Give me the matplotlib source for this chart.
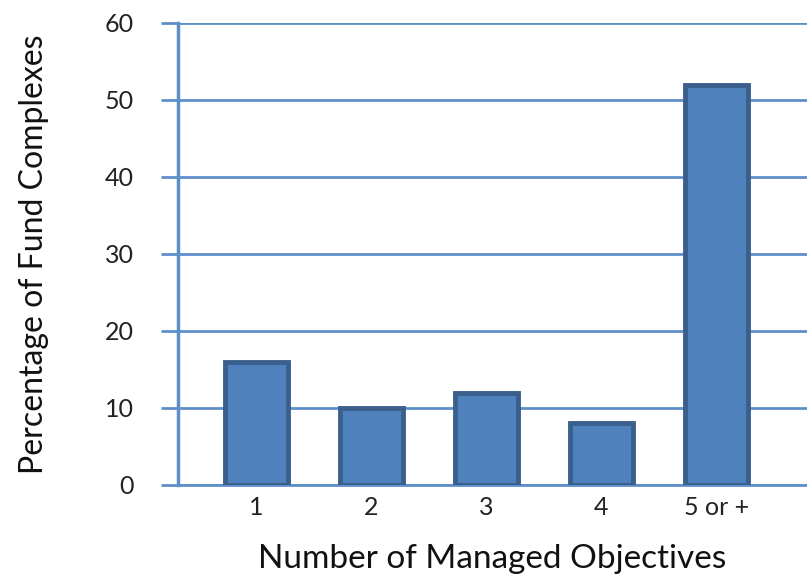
import matplotlib.pyplot as plt

# Values
categories = ['1', '2', '3', '4', '5 or +']
percentages = [16, 10, 12, 8, 52]
y_ticks = [0, 10, 20, 30, 40, 50, 60]

fill = '#4F81BD'
edge = '#3A5F8C'
grid_blue = '#5F8FC9'

plt.rcParams['font.family'] = ['Lato', 'DejaVu Sans']

fig = plt.figure(figsize=(8.07, 5.88), dpi=100)
ax = fig.add_axes([0.2206, 0.1752, 0.7794, 0.7857])

x = list(range(len(categories)))
ax.bar(x, percentages, width=0.55, color=fill, edgecolor=edge, linewidth=3.5, zorder=3)

ax.set_xlim(-0.68, 4.79)
ax.set_ylim(0, 60)
ax.set_yticks(y_ticks)
ax.set_xticks(x)
ax.set_xticklabels(categories)

ax.yaxis.grid(True, color=grid_blue, linewidth=2, zorder=0)
ax.set_axisbelow(True)

for side in ['top', 'right']:
    ax.spines[side].set_visible(False)
ax.spines['left'].set_color(grid_blue)
ax.spines['left'].set_linewidth(2.5)
ax.spines['bottom'].set_color(grid_blue)
ax.spines['bottom'].set_linewidth(2)

ax.tick_params(axis='y', length=12, width=2, color=grid_blue, labelsize=18,
               labelcolor='#222222', pad=20)
ax.tick_params(axis='x', length=0, labelsize=18, labelcolor='#222222', pad=8)

ax.set_xlabel('Number of Managed Objectives', fontsize=24, color='#111111', labelpad=18)
ax.set_ylabel('Percentage of Fund Complexes', fontsize=23, color='#111111', labelpad=40)

fig.savefig('out.png', dpi=100)
